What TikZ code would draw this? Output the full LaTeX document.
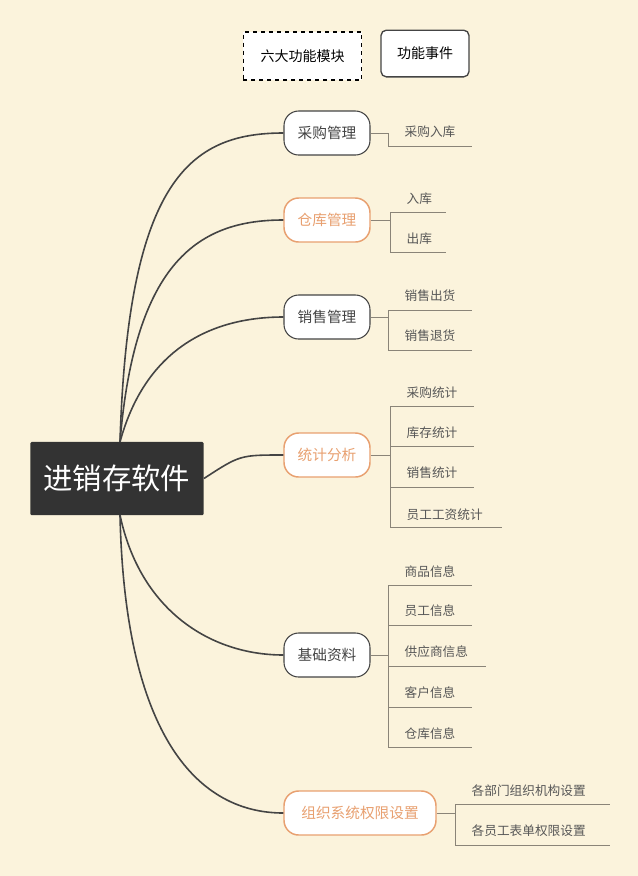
\documentclass[tikz,border=0pt]{standalone}
\usepackage{fontspec}
\setmainfont{Noto Sans CJK SC}
\definecolor{bg}{HTML}{FBF3DC}
\definecolor{org}{HTML}{E8A070}
\definecolor{ln}{HTML}{444444}
\definecolor{lf}{HTML}{8A8478}
\begin{document}
\begin{tikzpicture}[x=0.75pt,y=-0.75pt,
 br/.style={draw=ln,fill=white,rounded corners=11pt,minimum width=64.5pt,minimum height=33pt,font=\fontsize{11}{13}\selectfont,text=ln,line width=0.8pt},
 bro/.style={br,draw=org,text=org,line width=1.1pt},
 leaf/.style={font=\fontsize{9.5}{11}\selectfont,text=ln!90,anchor=west},
 con/.style={ln,line width=1.2pt},
 tl/.style={lf,line width=0.7pt}]
\fill[bg] (0,0) rectangle (638,876);
\useasboundingbox (0,0) rectangle (638,876);
% legend
\node[draw=black,dashed,fill=white,minimum width=89pt,minimum height=36pt,font=\fontsize{10.5}{12}\selectfont,line width=0.8pt] (lg1) at (302.5,56) {六大功能模块};
\node[draw=ln,fill=white,rounded corners=4pt,minimum width=66pt,minimum height=35pt,font=\fontsize{10.5}{12}\selectfont,line width=1pt] (lg2) at (425,53.5) {功能事件};
% root
\node[fill=black!80,text=white,minimum width=130pt,minimum height=55pt,rounded corners=1pt,font=\fontsize{22}{26}\selectfont] (root) at (117,478.5) {进销存软件};
\coordinate (rt) at (120,442);
\coordinate (rb) at (120,515);
% branches
\node[br] (b1) at (327,133) {采购管理};
\node[bro] (b2) at (327,220) {仓库管理};
\node[br] (b3) at (327,317) {销售管理};
\node[bro] (b4) at (327,455) {统计分析};
\node[br] (b5) at (327,655) {基础资料};
\node[bro,minimum width=114pt] (b6) at (360,813) {组织系统权限设置};
\draw[con] (rt) .. controls (128,180) and (190,133) .. (b1.west);
\draw[con] (rt) .. controls (135,260) and (200,220) .. (b2.west);
\draw[con] (rt) .. controls (145,350) and (210,317) .. (b3.west);
\draw[con] (root.east) .. controls (240,455) .. (b4.west);
\draw[con] (rb) .. controls (140,610) and (210,655) .. (b5.west);
\draw[con] (rb) .. controls (125,740) and (200,813) .. (b6.west);
% leaves
\newcommand{\leafgroup}[4]{% node, x, list of text/ylabel/yline/xend, first/last line y
 \foreach \t/\ty/\ly/\xe in {#3}{
   \node[leaf] at (#2+12,\ty) {\t};
   \draw[tl] (#2,\ly) -- (\xe,\ly);
 }
 \draw[tl] (#1.east) -- (#2,#4) ;
}
\draw[tl] (b1.east) -- (388,133) -- (388,146) -- (472,146);
\node[leaf] at (400,132) {采购入库};
% b2
\draw[tl] (b2.east) -- (390,220);
\draw[tl] (390,212) -- (390,252);
\foreach \t/\ty/\ly in {入库/199/212,出库/239/252}{\node[leaf] at (402,\ty) {\t}; \draw[tl] (390,\ly) -- (446,\ly);}
% b3
\draw[tl] (b3.east) -- (388,317);
\draw[tl] (388,310) -- (388,350);
\foreach \t/\ty/\ly in {销售出货/296/310,销售退货/336/350}{\node[leaf] at (400,\ty) {\t}; \draw[tl] (388,\ly) -- (472,\ly);}
% b4
\draw[tl] (b4.east) -- (390,455);
\draw[tl] (390,406) -- (390,527);
\foreach \t/\ty/\ly/\xe in {采购统计/393/406/474,库存统计/433/446/474,销售统计/473/487/474,员工工资统计/515/527/502}{\node[leaf] at (402,\ty) {\t}; \draw[tl] (390,\ly) -- (\xe,\ly);}
% b5
\draw[tl] (b5.east) -- (388,655);
\draw[tl] (388,585) -- (388,747);
\foreach \t/\ty/\ly/\xe in {商品信息/572/585/472,员工信息/611/625/472,供应商信息/652/666/486,客户信息/693/707/472,仓库信息/734/747/472}{\node[leaf] at (400,\ty) {\t}; \draw[tl] (388,\ly) -- (\xe,\ly);}
% b6
\draw[tl] (b6.east) -- (455,813);
\draw[tl] (455,804) -- (455,845);
\foreach \t/\ty/\ly in {各部门组织机构设置/791/804,各员工表单权限设置/831/845}{\node[leaf] at (467,\ty) {\t}; \draw[tl] (455,\ly) -- (610,\ly);}
\end{tikzpicture}
\end{document}
